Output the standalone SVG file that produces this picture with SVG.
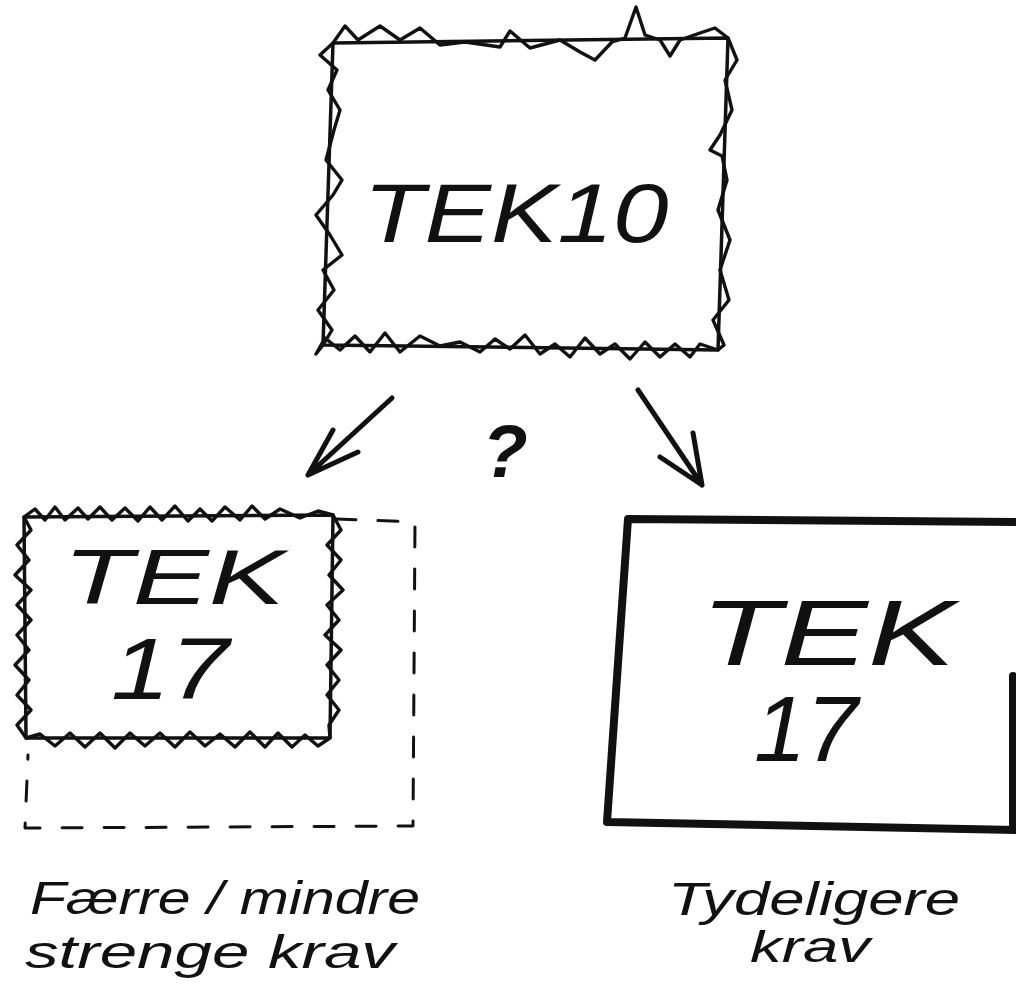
<svg xmlns="http://www.w3.org/2000/svg" width="1016" height="995" viewBox="0 0 1016 995">
<style>
.ink{fill:none;stroke:#111;stroke-linecap:round;stroke-linejoin:round}
.wav{stroke-width:3.4}
.edge{stroke-width:3.5}
.dash{stroke-width:3;stroke-dasharray:20 22}
.thick{stroke-width:8}
.arr{stroke-width:5}
.lbl{font-family:"Liberation Sans","DejaVu Sans",sans-serif;font-style:italic;fill:#111}
</style>
<rect width="1016" height="995" fill="#fff"/>
<g id="tek10">
<path class="ink edge" d="M333,43 L728,38 L718,350 L323,345 Z"/>
<path class="ink wav" d="M333,43 L345,26 L358,40 L380,26 L400,40 L420,28 L440,45 L465,42 L500,47 L510,31 L530,48 L560,40 L580,52 L595,60 L612,42 L625,38 L636,7 L645,35 L660,40 L670,56 L680,40 L700,33 L715,28 L728,38 L737,60 L725,80 L732,110 L720,135 L710,150 L722,156 L727,180 L718,210 L730,240 L720,270 L729,300 L713,320 L724,345 L718,350 L700,344 L690,357 L675,344 L660,357 L645,342 L630,359 L615,344 L600,354 L585,338 L570,357 L555,344 L540,354 L525,335 L510,349 L495,339 L480,352 L460,342 L440,346 L420,336 L400,352 L385,333 L370,352 L355,336 L340,350 L325,338 L316,354 L323,345 L332,330 L318,310 L334,290 L323,270 L342,255 L330,235 L316,215 L333,195 L342,180 L326,160 L334,130 L340,110 L328,90 L337,70 L320,55 Z"/>
<text class="lbl" x="516" y="242" font-size="84" text-anchor="middle" textLength="305" lengthAdjust="spacingAndGlyphs">TEK10</text>
</g>
<g id="connectors">
<path class="ink arr" d="M392,398 L308,475 M333,430 L308,475 L358,452"/>
<path class="ink arr" d="M638,390 L702,485 M660,457 L702,485 L693,433"/>
</g>
<g id="question">
<text class="lbl" x="505" y="477" font-size="74" font-weight="bold" text-anchor="middle">?</text>
</g>
<g id="tek17-left">
<path class="ink dash" d="M336,519 L415,522 L413,826 L25,828 L28,755"/>
<path class="ink edge" d="M24,517 L333,515 L330,738 L26,738 Z"/>
<path class="ink wav" d="M24,517 L35,509 L45,520 L55,507 L65,520 L78,508 L88,519 L100,507 L112,520 L125,508 L138,521 L150,507 L162,520 L175,506 L188,521 L200,509 L212,521 L225,507 L240,520 L252,506 L265,519 L280,509 L300,518 L318,511 L333,515 L341,530 L327,545 L341,560 L329,575 L343,590 L327,605 L339,620 L325,635 L341,650 L327,665 L339,680 L327,695 L339,710 L329,725 L330,738 L318,746 L305,735 L292,747 L278,733 L265,747 L250,732 L235,747 L220,734 L205,746 L190,732 L175,747 L160,733 L145,746 L130,733 L115,748 L100,733 L85,747 L70,733 L55,746 L40,734 L26,738 L17,725 L31,710 L17,695 L29,680 L15,665 L29,650 L17,635 L31,620 L17,605 L31,590 L15,575 L29,560 L17,545 L31,530 Z"/>
<text class="lbl" x="174" y="604" font-size="78" text-anchor="middle" textLength="222" lengthAdjust="spacingAndGlyphs">TEK</text>
<text class="lbl" x="170" y="699" font-size="88" text-anchor="middle" textLength="118" lengthAdjust="spacingAndGlyphs">17</text>
</g>
<g id="tek17-right">
<path class="ink thick" d="M1016,522 L628,519 L607,822 L1016,830 M1013,676 L1013,826"/>
<text class="lbl" x="828" y="665" font-size="92" text-anchor="middle" textLength="255" lengthAdjust="spacingAndGlyphs">TEK</text>
<text class="lbl" x="806" y="761" font-size="92" text-anchor="middle" textLength="104" lengthAdjust="spacingAndGlyphs">17</text>
</g>
<g id="label-left">
<text class="lbl" x="30" y="914" font-size="47" textLength="390" lengthAdjust="spacingAndGlyphs">Færre / mindre</text>
<text class="lbl" x="25" y="968" font-size="47" textLength="370" lengthAdjust="spacingAndGlyphs">strenge krav</text>
</g>
<g id="label-right">
<text class="lbl" x="668" y="915" font-size="47" textLength="292" lengthAdjust="spacingAndGlyphs">Tydeligere</text>
<text class="lbl" x="750" y="962" font-size="45" textLength="120" lengthAdjust="spacingAndGlyphs">krav</text>
</g>
</svg>
